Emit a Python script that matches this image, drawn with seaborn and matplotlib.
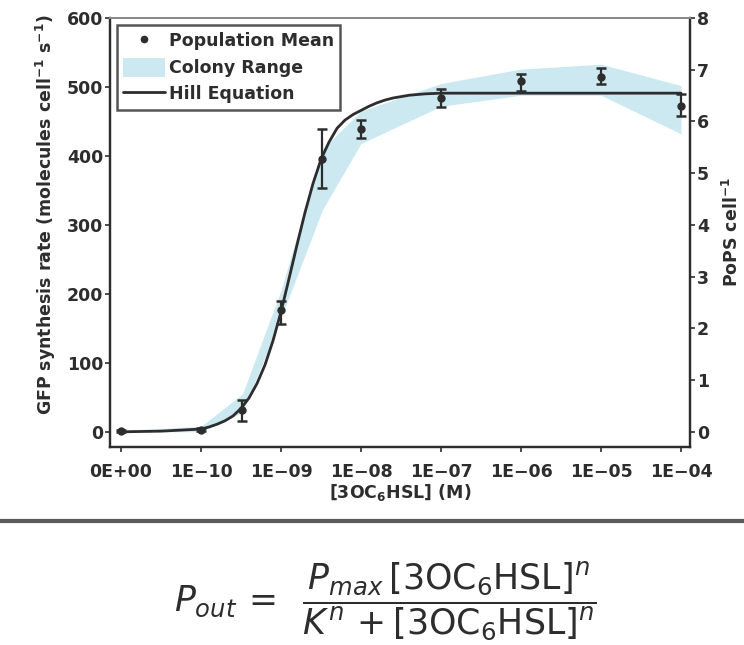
import numpy as np
import pandas as pd
import matplotlib
matplotlib.use("Agg")
import matplotlib.pyplot as plt
import seaborn as sns
from matplotlib.lines import Line2D
from matplotlib.patches import Patch

# concentrations of 3OC6HSL (M); 0 is drawn at the 1E-11 slot
conc = [0, 1e-10, 3.3e-10, 1e-9, 3.3e-9, 1e-8, 1e-7, 1e-6, 1e-5, 1e-4]
pop_mean = [1, 3, 32, 176, 395, 439, 484, 508, 515, 472]
err_low = [0, 1, 16, 157, 353, 426, 471, 494, 504, 458]
err_high = [2, 5, 46, 189, 439, 452, 497, 519, 527, 490]

# colony range (min / max over colonies)
colony_low = [0, 0, 28, 165, 322, 418, 472, 488, 488, 432]
colony_high = [2, 8, 55, 205, 410, 465, 505, 526, 533, 502]

# Hill equation curve (log10 of concentration)
hill_logc = [-11.0, -10.5, -10.0, -9.9, -9.8, -9.7, -9.6, -9.5, -9.4, -9.3,
             -9.2, -9.1, -9.0, -8.9, -8.8, -8.7, -8.6, -8.5, -8.4, -8.3,
             -8.2, -8.1, -8.0, -7.9, -7.8, -7.7, -7.6, -7.4, -7.2, -7.0,
             -6.0, -5.0, -4.0]
hill_rate = [0, 1, 4, 7, 11, 16, 23, 34, 49, 70,
             97, 132, 174, 222, 271, 318, 360, 395, 420, 440,
             452, 460, 466, 472, 477, 481, 484, 488, 490, 491,
             491, 491, 491]

tick_labels = ["0E+00", "1E\u221210", "1E\u221209", "1E\u221208", "1E\u221207",
               "1E\u221206", "1E\u221205", "1E\u221204"]
tick_pos = [1e-11, 1e-10, 1e-9, 1e-8, 1e-7, 1e-6, 1e-5, 1e-4]

GFP_PER_POPS = 75

sns.set_style("ticks")
plt.rcParams["font.family"] = ["DejaVu Sans"]
plt.rcParams["mathtext.fontset"] = "custom"
plt.rcParams["mathtext.rm"] = "DejaVu Sans:bold"
plt.rcParams["mathtext.it"] = "DejaVu Sans:italic:bold"
plt.rcParams["mathtext.bf"] = "DejaVu Sans:bold"

dark = "#2d2d2d"
band_col = "#cce9f2"
fs = 12.5

x_pos = [c if c > 0 else 1e-11 for c in conc]
df = pd.DataFrame({"x": x_pos, "mean": pop_mean, "lo": err_low, "hi": err_high,
                   "clo": colony_low, "chi": colony_high})
hill = pd.DataFrame({"x": 10.0 ** np.array(hill_logc), "y": hill_rate})

fig = plt.figure(figsize=(7.44, 6.45), dpi=100)
ax = fig.add_axes([110 / 744, 1 - 447 / 645, 580 / 744, 429 / 645])

ax.fill_between(df["x"], df["clo"], df["chi"], color=band_col, lw=0, zorder=1)
sns.lineplot(data=hill, x="x", y="y", ax=ax, color=dark, lw=2.0, zorder=3,
             sort=False)
ax.errorbar(df["x"], df["mean"],
            yerr=[df["mean"] - df["lo"], df["hi"] - df["mean"]],
            fmt="o", color=dark, ms=5, elinewidth=1.6, capsize=3.5,
            capthick=1.8, zorder=4)

ax.set_xscale("log")
ax.set_xlim(10 ** -11.1375, 10 ** -3.8875)
ax.set_ylim(-22, 600)
ax.set_xticks(tick_pos)
ax.set_xticklabels(tick_labels)
ax.xaxis.set_minor_locator(matplotlib.ticker.NullLocator())
ax.set_yticks(range(0, 601, 100))
ax.tick_params(axis="both", direction="out", length=3.5, width=1.2,
               colors=dark, labelsize=fs)
ax.tick_params(axis="y", pad=1.5)
ax.tick_params(axis="x", pad=8)
ax.set_xlabel("[3OC$_6$HSL] (M)", fontsize=fs, color=dark, labelpad=1,
              fontweight="bold")
ax.set_ylabel("GFP synthesis rate (molecules cell$^{-1}$ s$^{-1}$)",
              fontsize=fs, color=dark, fontweight="bold")
ax.yaxis.set_label_coords(-0.0897, 0.541)

ax2 = ax.twinx()
ax2.set_ylim(-22 / GFP_PER_POPS, 600 / GFP_PER_POPS)
ax2.set_yticks(range(0, 9))
ax2.tick_params(axis="y", direction="out", length=3.5, width=1.2,
                colors=dark, labelsize=fs, pad=1.5)
ax2.set_ylabel("PoPS cell$^{-1}$", fontsize=fs, color=dark, labelpad=9,
               fontweight="bold")

for a in (ax, ax2):
    for lab in a.get_xticklabels() + a.get_yticklabels():
        lab.set_fontweight("bold")
    for side in ("left", "bottom", "right"):
        a.spines[side].set_color(dark)
        a.spines[side].set_linewidth(1.6)
    a.spines["top"].set_color("#8a8a8a")
    a.spines["top"].set_linewidth(1.4)

handles = [
    Line2D([], [], marker="o", ls="none", color=dark, ms=4.5),
    Patch(facecolor=band_col, edgecolor="none"),
    Line2D([], [], color=dark, lw=2),
]
leg = ax.legend(handles, ["Population Mean", "Colony Range", "Hill Equation"],
                loc="upper left", frameon=True, fancybox=False,
                prop={"size": fs, "weight": "bold"},
                edgecolor=dark, handlelength=2.4, handleheight=1.3,
                handletextpad=0.25, borderpad=0.35, labelspacing=0.42,
                borderaxespad=0.4)
leg.get_frame().set_linewidth(1.8)
for t in leg.get_texts():
    t.set_color(dark)

fig.add_artist(Line2D([0, 1], [1 - 521 / 645] * 2, transform=fig.transFigure,
                      color="#5a5a5a", lw=3))

eq = (r"$P_{out}\,=\;\;\dfrac{P_{max}\,[\mathrm{3OC_6HSL}]^{n}}"
      r"{K^{n}\,+[\mathrm{3OC_6HSL}]^{n}}$")
fig.text(385 / 744, 1 - 601 / 645, eq, ha="center", va="center",
         fontsize=25, color=dark, fontweight="normal",
         math_fontfamily="dejavusans")

fig.savefig("out.png", dpi=100)
